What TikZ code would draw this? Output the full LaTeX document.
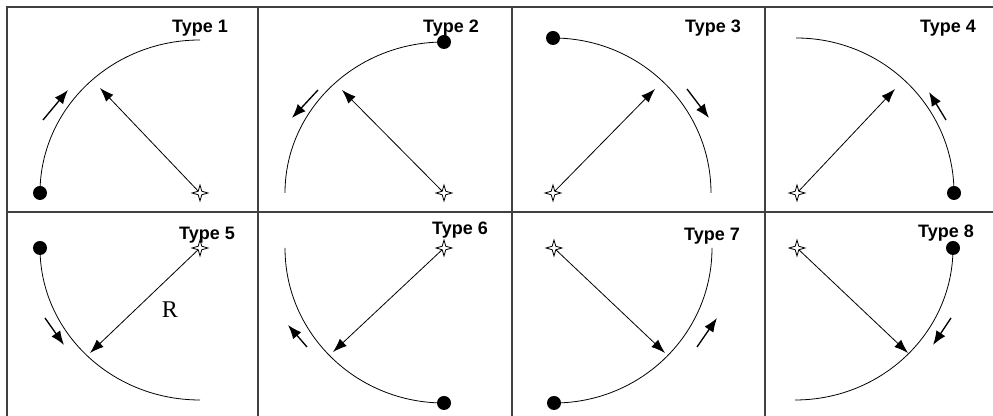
\documentclass[tikz,border=0pt]{standalone}
\usepackage{fontspec}
\setsansfont{Liberation Sans}
\setmainfont{Liberation Serif}
\usetikzlibrary{arrows.meta,shapes.geometric}
\definecolor{gridc}{RGB}{64,64,64}

\begin{document}
\begin{tikzpicture}[
  x=0.75pt, y=0.75pt,
  lbl/.style={font=\sffamily\bfseries\fontsize{13.5}{15}\selectfont, inner sep=0pt},
  dot/.style={circle, fill=black, minimum size=10.5pt, inner sep=0pt},
  ctr/.style={star, star points=4, star point ratio=3.2, draw, fill=white, minimum size=12pt, inner sep=0pt, line width=0.6pt},
  arcline/.style={line width=0.6pt},
  rad/.style={-{Latex[length=10.5pt,width=7.5pt]}, line width=0.6pt},
  dir/.style={-{Latex[length=10.5pt,width=8pt]}, line width=1pt},
  box/.style={gridc, line width=1.1pt}]
  \useasboundingbox (0,0) rectangle (993,416);
  % frame
  \draw[box] (7,0) -- (7,409) -- (993,409);
  \draw[box] (7,204) -- (993,204);
  \foreach \xx in {258,512,765} \draw[box] (\xx,0) -- (\xx,409);

  % Type 1
  \node[lbl] (t1) at (200,388) {Type 1};
  \node[dot] (d1) at (40,223) {};
  \draw[arcline] (d1.center) arc[start angle=180, end angle=90, x radius=160, y radius=153] coordinate (e1);
  \node[ctr] (s1) at (200,223) {};
  \coordinate (r1) at (100,328);
  \draw[rad] (s1) -- (r1);
  \coordinate (a1) at (43,296); \coordinate (b1) at (68,326);
  \draw[dir] (a1) -- (b1);

  % Type 2
  \node[lbl] (t2) at (451,388) {Type 2};
  \draw[arcline] (444,374) arc[start angle=90, end angle=180, x radius=159, y radius=151] coordinate (e2);
  \node[dot] (d2) at (444,374) {};
  \node[ctr] (s2) at (444,223) {};
  \coordinate (r2) at (342,326);
  \draw[rad] (s2) -- (r2);
  \coordinate (a2) at (318,326); \coordinate (b2) at (292,298);
  \draw[dir] (a2) -- (b2);

  % Type 3
  \node[lbl] (t3) at (713,388) {Type 3};
  \node[dot] (d3) at (553,378) {};
  \draw[arcline] (d3.center) arc[start angle=90, end angle=0, x radius=158, y radius=155] coordinate (e3);
  \node[ctr] (s3) at (553,223) {};
  \coordinate (r3) at (655,327);
  \draw[rad] (s3) -- (r3);
  \coordinate (a3) at (687,327); \coordinate (b3) at (709,298);
  \draw[dir] (a3) -- (b3);

  % Type 4
  \node[lbl] (t4) at (948,388) {Type 4};
  \draw[arcline] (796,378) arc[start angle=90, end angle=0, x radius=158, y radius=155] coordinate (e4);
  \node[dot] (d4) at (e4) {};
  \node[ctr] (s4) at (797,223) {};
  \coordinate (r4) at (895,327);
  \draw[rad] (s4) -- (r4);
  \coordinate (a4) at (946,296); \coordinate (b4) at (929,324);
  \draw[dir] (a4) -- (b4);

  % Type 5
  \node[lbl] (t5) at (207,181) {Type 5};
  \node[dot] (d5) at (40,168) {};
  \draw[arcline] (d5.center) arc[start angle=180, end angle=270, x radius=160, y radius=152] coordinate (e5);
  \node[ctr] (s5) at (200,168) {};
  \coordinate (r5) at (90,63);
  \draw[rad] (s5) -- (r5);
  \node[font=\fontsize{18}{20}\selectfont, inner sep=0pt] (rl) at (170,106) {R};
  \coordinate (a5) at (45,98); \coordinate (b5) at (64,71);
  \draw[dir] (a5) -- (b5);

  % Type 6
  \node[lbl] (t6) at (460,186) {Type 6};
  \draw[arcline] (285,168) arc[start angle=180, end angle=270, x radius=159, y radius=155] coordinate (e6);
  \node[dot] (d6) at (e6) {};
  \node[ctr] (s6) at (444,168) {};
  \coordinate (r6) at (333,64);
  \draw[rad] (s6) -- (r6);
  \coordinate (a6) at (307,69); \coordinate (b6) at (288,91);
  \draw[dir] (a6) -- (b6);

  % Type 7
  \node[lbl] (t7) at (712,180) {Type 7};
  \node[dot] (d7) at (554,13) {};
  \draw[arcline] (d7.center) arc[start angle=270, end angle=360, x radius=158, y radius=155] coordinate (e7);
  \node[ctr] (s7) at (554,168) {};
  \coordinate (r7) at (665,63);
  \draw[rad] (s7) -- (r7);
  \coordinate (a7) at (697,69); \coordinate (b7) at (717,98);
  \draw[dir] (a7) -- (b7);

  % Type 8
  \node[lbl] (t8) at (946,183) {Type 8};
  \node[dot] (d8) at (953,168) {};
  \draw[arcline] (d8.center) arc[start angle=0, end angle=-90, x radius=158, y radius=152] coordinate (e8);
  \node[ctr] (s8) at (797,168) {};
  \coordinate (r8) at (908,63);
  \draw[rad] (s8) -- (r8);
  \coordinate (a8) at (951,98); \coordinate (b8) at (933,71);
  \draw[dir] (a8) -- (b8);
\end{tikzpicture}
\end{document}
